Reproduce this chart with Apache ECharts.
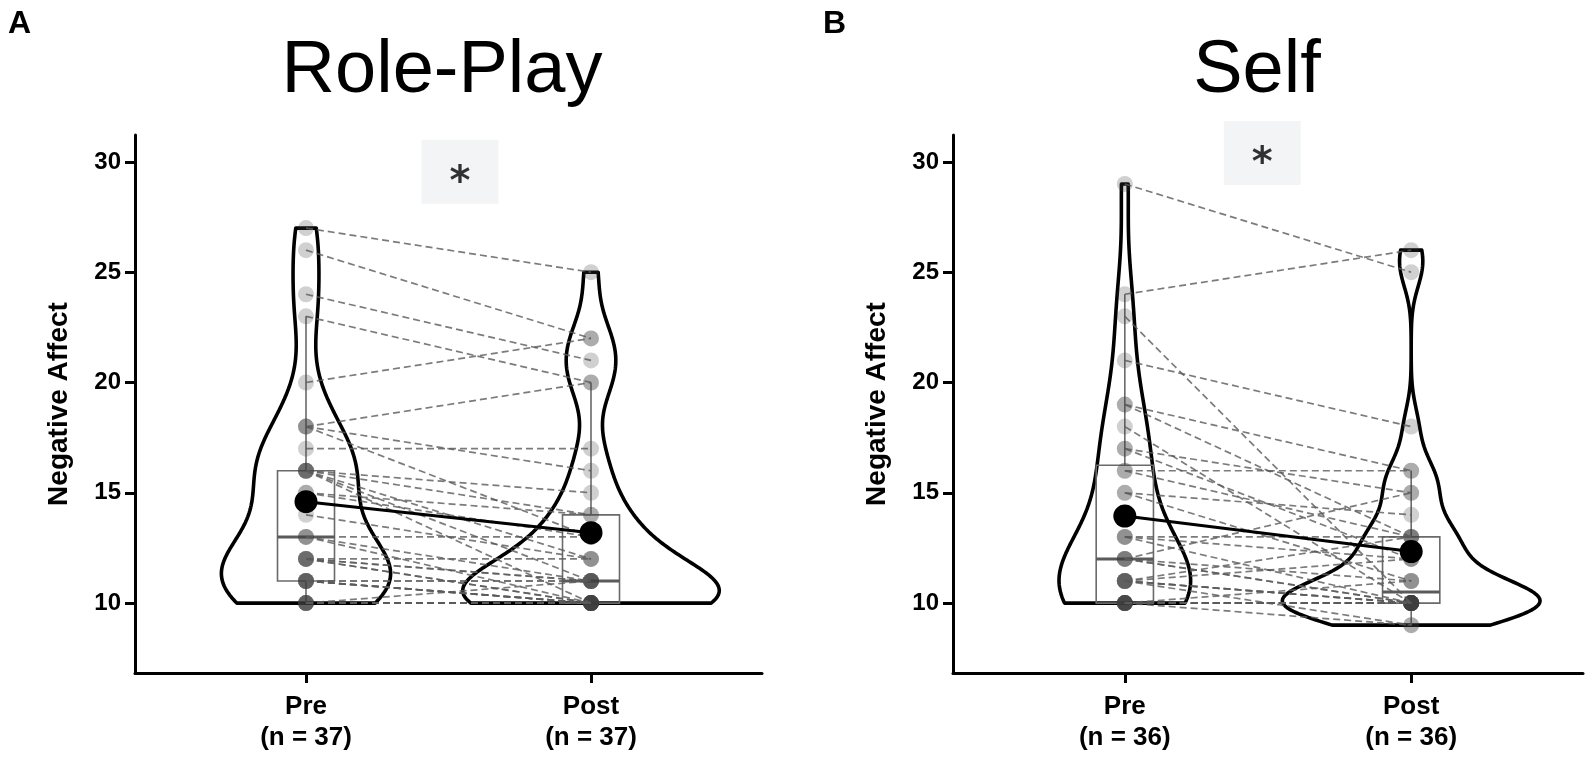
<!DOCTYPE html>
<html lang="en" style="height: 100%">
<head>
  <meta charset="utf-8">
</head>
<body style="height: 100%; margin: 0; background: #fff">
  <div id="container" style="width: 1595px; height: 758px"></div>

  <script type="text/javascript" src="https://cdn.jsdelivr.net/npm/echarts@6.0.0/dist/echarts.min.js"></script>

  <script type="text/javascript">
    // ---- values ----
    var panelTitles = ['Role-Play', 'Self'];
    var panelLetters = ['A', 'B'];
    var xLabelsRole = ['Pre\n(n = 37)', 'Post\n(n = 37)'];
    var xLabelsSelf = ['Pre\n(n = 36)', 'Post\n(n = 36)'];
    var yTicks = [10, 15, 20, 25, 30];
    var sigLabels = ['*', '*'];
    var sigPos = [[1.54, 29.55], [1.48, 30.4]];

    // one entry per participant, pre[i] is paired with post[i]
    var rolePre  = [27, 26, 24, 23, 20, 18, 18, 18, 17, 16, 16, 16, 16, 16, 15, 15, 14, 13, 13, 13,
                    12, 12, 12, 12, 12, 11, 11, 11, 11, 11, 11, 10, 10, 10, 10, 10, 10];
    var rolePost = [25, 22, 21, 20, 22, 20, 16, 13, 17, 15, 14, 12, 11, 10, 14, 13, 12, 13, 11, 10,
                    12, 11, 10, 10, 11, 11, 10, 10, 11, 10, 10, 10, 10, 10, 10, 11, 10];
    var selfPre  = [29, 24, 23, 21, 19, 19, 18, 17, 17, 16, 16, 15, 15, 13, 13, 13, 12, 12, 12, 12,
                    11, 11, 11, 11, 11, 11, 10, 10, 10, 10, 10, 10, 10, 10, 10, 10];
    var selfPost = [25, 26, 10, 18, 16, 13, 10, 15, 12, 16, 13, 14, 11, 13, 10, 12, 15, 10, 11, 10,
                    13, 10, 12, 10, 9, 10, 11, 9, 10, 10, 10, 10, 10, 10, 10, 10];

    var FONT = 'Liberation Sans';

    function sorted(v) { return v.slice().sort(function (a, b) { return a - b; }); }
    function quantile(s, p) {
      var h = (s.length - 1) * p, lo = Math.floor(h);
      if (lo + 1 >= s.length) return s[lo];
      return s[lo] + (h - lo) * (s[lo + 1] - s[lo]);
    }
    function mean(v) { return v.reduce(function (a, b) { return a + b; }, 0) / v.length; }

    function boxStats(v) {
      var s = sorted(v);
      var q1 = quantile(s, 0.25), med = quantile(s, 0.5), q3 = quantile(s, 0.75);
      var iqr = q3 - q1;
      var lo = s.filter(function (x) { return x >= q1 - 1.5 * iqr; })[0];
      var hiArr = s.filter(function (x) { return x <= q3 + 1.5 * iqr; });
      return [lo, q1, med, q3, hiArr[hiArr.length - 1]];
    }

    // gaussian kde, bw.nrd0, trimmed to data range
    function kde(v) {
      var s = sorted(v), n = s.length, m = mean(s);
      var sd = Math.sqrt(s.reduce(function (a, b) { return a + (b - m) * (b - m); }, 0) / (n - 1));
      var iqr = quantile(s, 0.75) - quantile(s, 0.25);
      var bw = 0.9 * Math.min(sd, iqr / 1.34) * Math.pow(n, -0.2);
      var out = [], a = s[0], b = s[n - 1], steps = 200;
      for (var i = 0; i <= steps; i++) {
        var y = a + (b - a) * i / steps, d = 0;
        for (var j = 0; j < n; j++) {
          var z = (y - s[j]) / bw;
          d += Math.exp(-0.5 * z * z);
        }
        out.push([y, d / (n * bw * Math.sqrt(2 * Math.PI))]);
      }
      return out;
    }

    var dom = document.getElementById('container');
    var myChart = echarts.init(dom, null, { renderer: 'canvas' });

    var grids = [
      { left: 135, top: 135, width: 627, height: 538 },
      { left: 953, top: 135, width: 630, height: 538 }
    ];
    var titleX = [442, 1257];
    var panels = [
      { pre: rolePre, post: rolePost, labels: xLabelsRole },
      { pre: selfPre, post: selfPost, labels: xLabelsSelf }
    ];

    var xAxes = [], yAxes = [], series = [], graphics = [];

    panels.forEach(function (p, gi) {
      var labels = p.labels;
      xAxes.push({
        type: 'value', gridIndex: gi, min: 0.4, max: 2.6,
        axisLine: { show: true, onZero: false, lineStyle: { color: '#000', width: 3 } },
        axisTick: { show: true, customValues: [1, 2], length: 10, lineStyle: { color: '#000', width: 3 } },
        axisLabel: {
          customValues: [1, 2], margin: 18, color: '#000', fontSize: 26, fontWeight: 'bold',
          fontFamily: FONT, lineHeight: 31,
          formatter: function (v) { return labels[Math.round(v) - 1]; }
        },
        splitLine: { show: false }
      });
      yAxes.push({
        type: 'value', gridIndex: gi, min: 6.83, max: 31.22,
        name: 'Negative Affect', nameLocation: 'middle', nameGap: 62,
        nameTextStyle: { color: '#000', fontSize: 28, fontWeight: 'bold', fontFamily: FONT },
        axisLine: { show: true, onZero: false, lineStyle: { color: '#000', width: 3 } },
        axisTick: { show: true, customValues: yTicks, length: 10, lineStyle: { color: '#000', width: 3 } },
        axisLabel: {
          customValues: yTicks, margin: 14, color: '#000', fontSize: 24, fontWeight: 'bold', fontFamily: FONT
        },
        splitLine: { show: false }
      });

      // violins (area scaled within panel)
      var dens = [kde(p.pre), kde(p.post)];
      var maxD = 0;
      dens.forEach(function (d) { d.forEach(function (q) { maxD = Math.max(maxD, q[1]); }); });
      dens.forEach(function (d, k) {
        var xc = k + 1;
        series.push({
          type: 'custom', xAxisIndex: gi, yAxisIndex: gi, z: 2, silent: true,
          data: [[xc, d[0][0]]],
          renderItem: function (params, api) {
            var left = [], right = [];
            d.forEach(function (q) {
              var w = 0.45 * q[1] / maxD;
              left.push(api.coord([xc - w, q[0]]));
              right.push(api.coord([xc + w, q[0]]));
            });
            return {
              type: 'polygon',
              shape: { points: left.concat(right.reverse()) },
              style: { fill: 'none', stroke: '#000', lineWidth: 3.6, lineJoin: 'round' }
            };
          }
        });
      });

      // boxes
      var stats = [boxStats(p.pre), boxStats(p.post)];
      series.push({
        type: 'custom', xAxisIndex: gi, yAxisIndex: gi, z: 3, silent: true,
        data: stats.map(function (st, k) { return [k + 1].concat(st); }),
        encode: { x: 0, y: [1, 2, 3, 4, 5] },
        renderItem: function (params, api) {
          var xc = api.value(0);
          var lo = api.coord([xc, api.value(1)]), q1 = api.coord([xc, api.value(2)]);
          var md = api.coord([xc, api.value(3)]), q3 = api.coord([xc, api.value(4)]);
          var hi = api.coord([xc, api.value(5)]);
          var half = api.size([0.1, 0])[0];
          var grey = '#6a6a6a';
          return {
            type: 'group',
            children: [
              { type: 'line', shape: { x1: hi[0], y1: hi[1], x2: q3[0], y2: q3[1] }, style: { stroke: grey, lineWidth: 1.6 } },
              { type: 'line', shape: { x1: q1[0], y1: q1[1], x2: lo[0], y2: lo[1] }, style: { stroke: grey, lineWidth: 1.6 } },
              { type: 'rect', shape: { x: q3[0] - half, y: q3[1], width: half * 2, height: q1[1] - q3[1] },
                style: { fill: 'none', stroke: grey, lineWidth: 1.6 } },
              { type: 'line', shape: { x1: md[0] - half, y1: md[1], x2: md[0] + half, y2: md[1] },
                style: { stroke: '#5a5a5a', lineWidth: 3 } }
            ]
          };
        }
      });

      // individual points
      series.push({
        type: 'scatter', xAxisIndex: gi, yAxisIndex: gi, z: 4, silent: true,
        symbolSize: 16,
        itemStyle: { color: 'rgba(60,60,60,0.3)' },
        data: p.pre.map(function (v) { return [1, v]; }).concat(p.post.map(function (v) { return [2, v]; }))
      });

      // paired dashed lines
      series.push({
        type: 'custom', xAxisIndex: gi, yAxisIndex: gi, z: 5, silent: true,
        data: p.pre.map(function (v, i) { return [1, v, 2, p.post[i]]; }),
        encode: { x: [0, 2], y: [1, 3] },
        renderItem: function (params, api) {
          var a = api.coord([api.value(0), api.value(1)]);
          var b = api.coord([api.value(2), api.value(3)]);
          return {
            type: 'line',
            shape: { x1: a[0], y1: a[1], x2: b[0], y2: b[1] },
            style: { stroke: 'rgba(90,90,90,0.8)', lineWidth: 1.7, lineDash: [7, 4] }
          };
        }
      });

      // group means
      series.push({
        type: 'line', xAxisIndex: gi, yAxisIndex: gi, z: 6, silent: true,
        symbol: 'circle', symbolSize: 23,
        lineStyle: { color: '#000', width: 3 },
        itemStyle: { color: '#000' },
        data: [[1, mean(p.pre)], [2, mean(p.post)]]
      });

      // significance label
      series.push({
        type: 'scatter', xAxisIndex: gi, yAxisIndex: gi, z: 7, silent: true, clip: false,
        symbol: 'rect', symbolSize: [77, 64],
        itemStyle: { color: '#f0f1f3' },
        label: {
          show: true, position: 'inside', formatter: sigLabels[gi], offset: [0, 12],
          color: '#000', fontSize: 40, fontWeight: 'bold', fontFamily: 'DejaVu Sans'
        },
        data: [sigPos[gi]]
      });

      graphics.push({
        type: 'text', x: titleX[gi], y: 72,
        style: { text: panelTitles[gi], fontSize: 74, fontFamily: FONT, fill: '#000', align: 'center', verticalAlign: 'middle' }
      });
    });

    graphics.push({ type: 'text', x: 8, y: 8, style: { text: panelLetters[0], fontSize: 32, fontWeight: 'bold', fontFamily: FONT, fill: '#000' } });
    graphics.push({ type: 'text', x: 823, y: 8, style: { text: panelLetters[1], fontSize: 32, fontWeight: 'bold', fontFamily: FONT, fill: '#000' } });

    var option = {
      backgroundColor: '#fff',
      animation: false,
      grid: grids.map(function (g) {
        return { left: g.left, top: g.top, width: g.width, height: g.height, containLabel: false, outerBoundsMode: 'none' };
      }),
      xAxis: xAxes,
      yAxis: yAxes,
      series: series,
      graphic: graphics
    };

    myChart.setOption(option);
    window.addEventListener('resize', myChart.resize);
  </script>
</body>
</html>
